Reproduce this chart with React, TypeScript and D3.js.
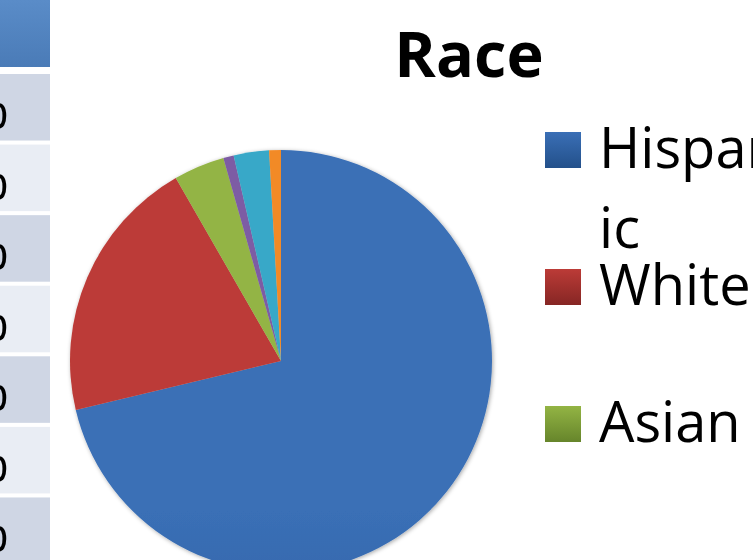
import React from "react";
import * as d3 from "d3";

const title = "Race";
const categories = ["Hispanic", "White", "Asian", "American Indian", "Black", "Other"];
const values = [71.2, 20.4, 3.9, 0.8, 2.7, 0.9];
const topColors = ["#3A6FB6", "#BC3B37", "#93B444", "#7D5CA4", "#38A8C8", "#F28A28"];
const bottomColors = ["#23508A", "#862624", "#66852B", "#553B7C", "#24809C", "#C8691A"];
const legendCount = 3;
const tableRowLabels = ["%", "%", "%", "%", "%", "%", "%"];

const W = 753;
const H = 560;

export default function App() {
  const cx = 281;
  const cy = 361;
  const r = 211;

  const pie = d3
    .pie<number>()
    .sort(null)
    .value((d) => d)
    .startAngle(0)
    .endAngle(2 * Math.PI);
  const arcs = pie(values);
  const arc = d3.arc<d3.PieArcDatum<number>>().innerRadius(0).outerRadius(r);

  const rowY = d3
    .scaleBand<number>()
    .domain(d3.range(tableRowLabels.length))
    .range([74, 74 + 70 * tableRowLabels.length])
    .paddingInner(4 / 70);

  const legendY = d3
    .scalePoint<string>()
    .domain(categories.slice(0, legendCount))
    .range([132, 406]);

  return (
    <svg
      width={W}
      height={H}
      style={{ position: "absolute", left: 0, top: 0, background: "#fff" }}
    >
      <defs>
        {categories.map((c, i) => (
          <linearGradient
            key={c}
            id={`g${i}`}
            gradientUnits="userSpaceOnUse"
            x1={0}
            y1={cy - r}
            x2={0}
            y2={cy + r}
          >
            <stop offset="0" stopColor={topColors[i]} />
            <stop offset="1" stopColor={bottomColors[i]} />
          </linearGradient>
        ))}
        {categories.map((c, i) => (
          <linearGradient key={"l" + c} id={`lg${i}`} x1="0" y1="0" x2="0" y2="1">
            <stop offset="0" stopColor={topColors[i]} />
            <stop offset="1" stopColor={bottomColors[i]} />
          </linearGradient>
        ))}
        <linearGradient id="hdr" x1="0" y1="0" x2="0" y2="1">
          <stop offset="0" stopColor="#5A8CC8" />
          <stop offset="1" stopColor="#4A7BB7" />
        </linearGradient>
        <filter id="shadow" x="-10%" y="-10%" width="120%" height="120%">
          <feDropShadow dx="1" dy="1" stdDeviation="2" floodColor="#000" floodOpacity="0.35" />
        </filter>
      </defs>

      {/* table fragment on the left */}
      <rect x={-10} y={0} width={60} height={67} fill="url(#hdr)" />
      {tableRowLabels.map((t, i) => (
        <g key={i}>
          <rect
            x={-10}
            y={rowY(i)}
            width={60}
            height={rowY.bandwidth()}
            fill={i % 2 === 0 ? "#CFD6E4" : "#E9EDF4"}
          />
          <text
            x={9}
            y={(rowY(i) as number) + 54}
            textAnchor="end"
            fontFamily="'Open Sans', sans-serif"
            fontSize={56}
            fill="#000"
          >
            {t}
          </text>
        </g>
      ))}

      {/* title */}
      <text
        x={469}
        y={77}
        textAnchor="middle"
        fontFamily="'Open Sans', sans-serif"
        fontWeight="bold"
        fontSize={63}
        fill="#000"
      >
        {title}
      </text>

      {/* pie */}
      <g filter="url(#shadow)">
        {arcs.map((a, i) => (
          <path
            key={categories[i]}
            d={arc(a) as string}
            fill={`url(#g${i})`}
            transform={`translate(${cx},${cy})`}
          />
        ))}
      </g>

      {/* legend */}
      {categories.slice(0, legendCount).map((c, i) => {
        const y = legendY(c) as number;
        const lines = c === "Hispanic" ? ["Hispan", "ic"] : [c];
        return (
          <g key={c}>
            <rect x={545} y={y} width={36} height={36} fill={`url(#lg${i})`} />
            {lines.map((ln, j) => (
              <text
                key={j}
                x={599}
                y={y + 36 + j * 80}
                fontFamily="'Open Sans', sans-serif"
                fontSize={56}
                fill="#000"
              >
                {ln}
              </text>
            ))}
          </g>
        );
      })}
    </svg>
  );
}
